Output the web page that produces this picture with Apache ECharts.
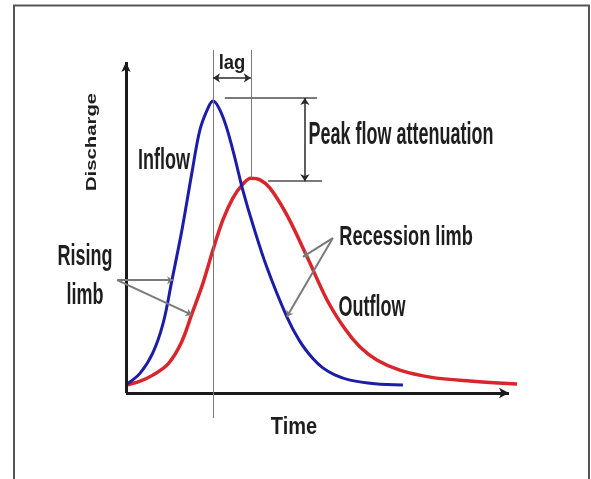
<!DOCTYPE html>
<html>
<head>
<meta charset="utf-8">
<script src="https://cdn.jsdelivr.net/npm/echarts@6/dist/echarts.min.js"></script>
<style>
  html, body { margin: 0; padding: 0; background: #fff; }
  #chartBox { width: 591px; height: 479px; }
</style>
</head>
<body>
<div id="chartBox"></div>
<script>
// hydrograph (time 0-100, discharge 0-100)
const inflowTime = [0, 3.7, 7.0, 9.7, 12.0, 14.6, 17.2, 19.3, 21.4, 22.7, 25.3, 27.9, 30.5, 33.2, 36.8, 42.0, 45.4, 48.8, 51.4, 54.5, 58.5, 65.0, 72.3]
const inflowQ = [2.5, 6.0, 12.1, 21.1, 34.1, 49.2, 66.5, 79.5, 86.1, 88.2, 83.4, 73.4, 61.3, 50.6, 37.9, 23.0, 15.6, 10.4, 7.6, 5.5, 3.9, 2.8, 2.4]
const outflowTime = [0, 3.7, 7.0, 11.0, 14.4, 17.2, 20.1, 22.7, 25.3, 27.9, 30.5, 32.6, 35.0, 37.6, 42.0, 47.3, 52.5, 57.2, 61.1, 65.5, 71.5, 79.4, 89.8, 102.1]
const outflowQ = [2.4, 3.6, 5.4, 8.8, 15.1, 23.9, 33.2, 43.2, 52.3, 58.9, 63.1, 64.9, 64.4, 61.9, 53.8, 41.1, 28.1, 19.3, 13.9, 10.0, 6.9, 4.8, 3.6, 2.7]

// annotation positions, in data units
const inflowPeak = [22.7, 88.2]
const outflowPeak = [32.6, 64.9]
const lagY = 95.2
const bracketTop = 103.6
const attenX = 46.7

const grey = "#7a7a7a"
const dark = "#2a2a2a"
const axisColor = "#1a1a1a"

function seg(a, b, color, width, s0, s1, size) {
  return [
    { coord: a, symbol: s0 || "none", symbolSize: size || 7, lineStyle: { color: color, width: width, type: "solid" } },
    { coord: b, symbol: s1 || "none", symbolSize: size || 7 }
  ]
}

function label(text, x, y, size, sx, rot) {
  return {
    type: "text",
    x: x,
    y: y,
    rotation: rot || 0,
    scaleX: sx,
    silent: true,
    style: {
      text: text,
      fontSize: size,
      fontWeight: "bold",
      fontFamily: "Liberation Sans",
      fill: "#1e1e1e",
      align: "center",
      verticalAlign: "middle"
    }
  }
}

const hidden = {
  axisLine: { show: false },
  axisTick: { show: false },
  axisLabel: { show: false },
  splitLine: { show: false }
}

const chart = echarts.init(document.getElementById("chartBox"), null, { renderer: "canvas" })
const option = {
  backgroundColor: "#fff",
  animation: false,
  grid: { left: 114.51, top: 45.45, right: 70.51, bottom: 59.52 },
  xAxis: Object.assign({ type: "value", min: -3, max: 103 }, hidden),
  yAxis: Object.assign({ type: "value", min: -8, max: 105 }, hidden),
  series: [
    {
      name: "Outflow",
      type: "line",
      data: outflowTime.map((t, i) => [t, outflowQ[i]]),
      smooth: 0.35,
      symbol: "none",
      clip: false,
      lineStyle: { color: "#d9262c", width: 3.5 },
      z: 3,
      markLine: {
        silent: true,
        animation: false,
        label: { show: false },
        emphasis: { disabled: true },
        data: [
          // axes with arrows
          seg([0, 0], [100, 0], axisColor, 3, "none", "arrow", [8, 10]),
          seg([0, 0], [0, 100], axisColor, 3, "none", "arrow", [7, 10])
        ]
      }
    },
    {
      name: "Inflow",
      type: "line",
      data: inflowTime.map((t, i) => [t, inflowQ[i]]),
      smooth: 0.35,
      symbol: "none",
      clip: false,
      lineStyle: { color: "#1c1ca8", width: 3 },
      z: 4,
      markLine: {
        silent: true,
        animation: false,
        label: { show: false },
        emphasis: { disabled: true },
        data: [
          // peak verticals and lag arrow
          seg([inflowPeak[0], bracketTop], [inflowPeak[0], -7.6], grey, 1),
          seg([outflowPeak[0], bracketTop], [outflowPeak[0], outflowPeak[1]], grey, 1),
          seg([inflowPeak[0], lagY], [outflowPeak[0], lagY], dark, 1.5, "arrow", "arrow"),
          // peak flow attenuation
          seg([25.8, 89.1], [49.9, 89.1], grey, 2),
          seg([37.1, 64.0], [51.2, 64.0], grey, 2),
          seg([attenX, 89.1], [attenX, 64.0], dark, 1.5, "arrow", "arrow"),
          // rising limb pointers
          seg([-2.3, 34.1], [12.3, 34.1], grey, 2, "none", "arrow", 6),
          seg([-2.3, 34.1], [17.2, 23.6], grey, 2, "none", "arrow", 6),
          // recession limb pointers
          seg([54.0, 46.8], [46.2, 41.1], grey, 2, "none", "arrow", 6),
          seg([54.0, 46.8], [42.0, 23.0], grey, 2, "none", "arrow", 6)
        ]
      }
    }
  ],
  graphic: [
    {
      type: "rect",
      silent: true,
      shape: { x: 14, y: 5.5, width: 575, height: 520 },
      style: { fill: "none", stroke: "#555", lineWidth: 2 }
    },
    label("lag", 232, 63, 21, 0.88),
    label("Inflow", 164, 161, 30, 0.6),
    label("Peak flow attenuation", 401, 135, 31, 0.58),
    label("Recession limb", 406, 237, 28, 0.65),
    label("Outflow", 372, 308, 29, 0.62),
    label("Rising", 85, 257, 30, 0.6),
    label("limb", 85, 296, 30, 0.6),
    label("Time", 294, 428, 23, 0.87),
    label("Discharge", 92, 142, 14, 1.45, Math.PI / 2)
  ]
}
chart.setOption(option)
</script>
</body>
</html>
